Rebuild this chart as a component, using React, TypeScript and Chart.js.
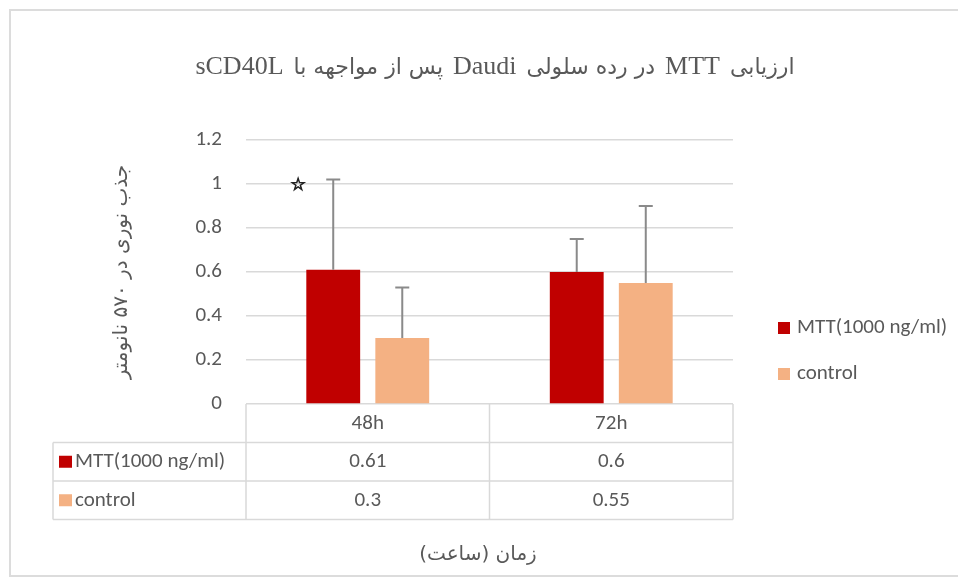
import React, { useEffect, useRef } from "react";
import { Chart, registerables } from "chart.js";

Chart.register(...registerables);

// ---- data ----
const categories = ["48h", "72h"];
const seriesNames = ["MTT(1000 ng/ml)", "control"];
const mttValues = [0.61, 0.6];
const controlValues = [0.3, 0.55];
const mttErrors = [0.41, 0.15];
const controlErrors = [0.23, 0.35];
const yMin = 0;
const yMax = 1.2;
const yStep = 0.2;
const titleText = "ارزیابی MTT در رده سلولی Daudi پس از مواجهه با sCD40L";
const yTitleText = "جذب نوری در ۵۷۰ نانومتر";
const xTitleText = "زمان (ساعت)";
const significanceMarks = [{ categoryIndex: 0, symbol: "☆", value: 1.0 }];

// ---- styles ----
const seriesColors = ["#C00000", "#F4B183"];
const textColor = "#595959";
const lineColor = "#d9d9d9";
const errColor = "#8a8a8a";
const uiFont = "Carlito, Lato, 'Open Sans', sans-serif";
const latinTitleFont = "26px 'Liberation Serif', 'Times New Roman', serif";
const persianTitleFont = "22px 'DejaVu Sans'";

function drawMixedRtl(ctx: CanvasRenderingContext2D, text: string, cx: number, baseY: number, gap: number) {
  const parts = text
    .split(/([A-Za-z][A-Za-z0-9]*)/)
    .map((s) => s.trim())
    .filter(Boolean)
    .map((s) => ({ s, latin: /[A-Za-z]/.test(s) }));
  const widths = parts.map((p) => {
    ctx.font = p.latin ? latinTitleFont : persianTitleFont;
    ctx.direction = p.latin ? "ltr" : "rtl";
    return ctx.measureText(p.s).width;
  });
  const total = widths.reduce((a, b) => a + b, 0) + gap * (parts.length - 1);
  let xr = cx + total / 2;
  ctx.textAlign = "right";
  ctx.textBaseline = "alphabetic";
  parts.forEach((p, i) => {
    ctx.font = p.latin ? latinTitleFont : persianTitleFont;
    ctx.direction = p.latin ? "ltr" : "rtl";
    ctx.fillText(p.s, xr, baseY);
    xr -= widths[i] + gap;
  });
  ctx.direction = "ltr";
}

const extrasPlugin = {
  id: "excelExtras",
  afterDatasetsDraw(chart: any) {
    const { ctx } = chart;
    const y = chart.scales.y;
    const errs = [mttErrors, controlErrors];
    const vals = [mttValues, controlValues];
    ctx.save();
    ctx.strokeStyle = errColor;
    ctx.lineWidth = 2;
    for (let d = 0; d < 2; d++) {
      const meta = chart.getDatasetMeta(d);
      meta.data.forEach((el: any, i: number) => {
        const top = y.getPixelForValue(vals[d][i] + errs[d][i]);
        ctx.beginPath();
        ctx.moveTo(el.x, el.y);
        ctx.lineTo(el.x, top);
        ctx.moveTo(el.x - 7, top);
        ctx.lineTo(el.x + 7, top);
        ctx.stroke();
      });
    }
    // significance marks
    ctx.fillStyle = "#222";
    ctx.strokeStyle = "#222";
    ctx.lineWidth = 1;
    ctx.font = "bold 17px 'DejaVu Sans'";
    ctx.textAlign = "center";
    ctx.textBaseline = "middle";
    significanceMarks.forEach((m) => {
      const el = chart.getDatasetMeta(0).data[m.categoryIndex] as any;
      const sx = el.x - 35;
      const sy = y.getPixelForValue(m.value) + 2;
      ctx.fillText(m.symbol, sx, sy);
      ctx.strokeText(m.symbol, sx, sy);
    });
    ctx.restore();
  },
  afterDraw(chart: any) {
    const { ctx, chartArea: ca } = chart;
    const x = chart.scales.x;
    const W = chart.width;
    const H = chart.height;
    ctx.save();
    // frame
    ctx.strokeStyle = "#dcdcdc";
    ctx.lineWidth = 2;
    ctx.strokeRect(2, 2, W + 10, H - 5);

    // title
    ctx.fillStyle = textColor;
    drawMixedRtl(ctx, titleText, 487, 66, 10);

    // x title
    ctx.direction = "rtl";
    ctx.textAlign = "center";
    ctx.textBaseline = "middle";
    ctx.font = "20px 'DejaVu Sans'";
    ctx.fillText(xTitleText, 470, 547);
    ctx.direction = "ltr";

    // data table
    const rowH = 38.5;
    const top = ca.bottom;
    const leftCol = 45;
    const mid = (x.getPixelForTick(0) + x.getPixelForTick(1)) / 2;
    ctx.strokeStyle = lineColor;
    ctx.lineWidth = 1.5;
    ctx.beginPath();
    [ca.left, mid, ca.right].forEach((cx) => {
      ctx.moveTo(cx, top);
      ctx.lineTo(cx, top + rowH * 3);
    });
    for (let r = 1; r <= 3; r++) {
      ctx.moveTo(leftCol, top + rowH * r);
      ctx.lineTo(ca.right, top + rowH * r);
    }
    ctx.moveTo(leftCol, top + rowH);
    ctx.lineTo(leftCol, top + rowH * 3);
    ctx.stroke();

    ctx.fillStyle = textColor;
    ctx.font = `21px ${uiFont}`;
    ctx.textAlign = "center";
    ctx.textBaseline = "middle";
    categories.forEach((c, i) => {
      const cx = x.getPixelForTick(i);
      ctx.fillText(c, cx, top + rowH * 0.5);
      ctx.fillText(String(mttValues[i]), cx, top + rowH * 1.5);
      ctx.fillText(String(controlValues[i]), cx, top + rowH * 2.5);
    });
    ctx.textAlign = "left";
    seriesNames.forEach((s, i) => {
      const cy = top + rowH * (1.5 + i);
      ctx.fillStyle = seriesColors[i];
      ctx.fillRect(leftCol + 6, cy - 6, 13, 12);
      ctx.fillStyle = textColor;
      ctx.fillText(s, leftCol + 22, cy);
    });

    // legend
    seriesNames.forEach((s, i) => {
      const cy = 320 + i * 46;
      ctx.fillStyle = seriesColors[i];
      ctx.fillRect(770, cy - 6, 12, 12);
      ctx.fillStyle = textColor;
      ctx.fillText(s, 789, cy);
    });
    ctx.restore();
  },
};

export default function App() {
  const ref = useRef<HTMLCanvasElement>(null);
  useEffect(() => {
    if (!ref.current) return;
    const chart = new Chart(ref.current, {
      type: "bar",
      data: {
        labels: categories,
        datasets: [
          {
            label: seriesNames[0],
            data: mttValues,
            backgroundColor: seriesColors[0],
            categoryPercentage: 0.567,
            barPercentage: 0.78,
          },
          {
            label: seriesNames[1],
            data: controlValues,
            backgroundColor: seriesColors[1],
            categoryPercentage: 0.567,
            barPercentage: 0.78,
          },
        ],
      },
      options: {
        animation: false,
        responsive: true,
        maintainAspectRatio: false,
        layout: { padding: { left: 90, right: 225, top: 132, bottom: 175 } },
        plugins: {
          legend: { display: false },
          title: { display: false },
          tooltip: { enabled: false },
        },
        scales: {
          x: {
            display: false,
            grid: { display: false },
          },
          y: {
            min: yMin,
            max: yMax,
            afterFit: (s: any) => {
              s.width = 148;
            },
            ticks: {
              stepSize: yStep,
              padding: 24,
              color: textColor,
              font: { family: uiFont, size: 21 },
              callback: (v: any) => String(Math.round(Number(v) * 10) / 10),
            },
            grid: { color: lineColor, lineWidth: 1.5, drawTicks: false },
            border: { display: false },
            title: {
              display: true,
              text: yTitleText,
              color: textColor,
              font: { family: "'DejaVu Sans'", size: 20 },
              padding: { top: 12, bottom: 0 },
            },
          },
        },
      },
      plugins: [extrasPlugin],
    });
    return () => chart.destroy();
  }, []);
  return (
    <div style={{ width: 950, height: 571, position: "relative" }}>
      <canvas ref={ref} />
    </div>
  );
}
